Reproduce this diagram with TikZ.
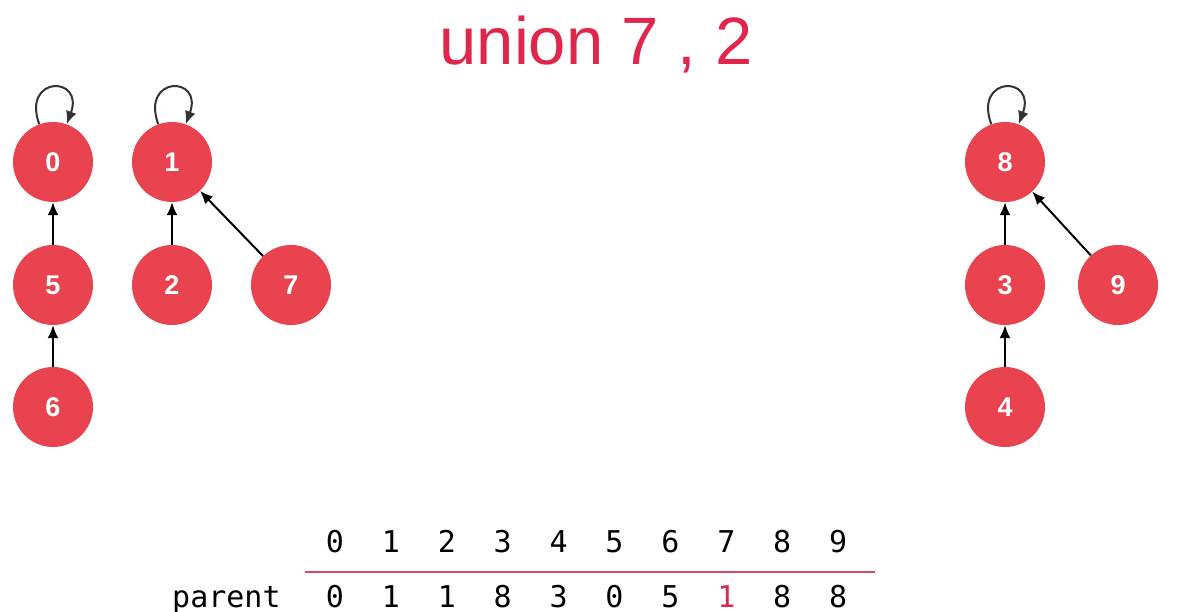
\documentclass[tikz,border=0pt]{standalone}
\usepackage{fontspec}
\setmainfont{Liberation Sans}
\setmonofont{DejaVu Sans Mono}
\usetikzlibrary{arrows.meta}
\definecolor{setred}{HTML}{E8434F}
\definecolor{titlered}{HTML}{E2254B}
\definecolor{rulered}{HTML}{DB4A5C}
\tikzset{
	elem/.style = {circle, fill=setred, minimum size=80pt, inner sep=0pt, text=white,
		font=\fontsize{27}{27}\selectfont\bfseries},
	link/.style = {-{Latex[length=13pt, width=11pt]}, line width=2pt},
	self/.style = {link, draw=black!80, out=110, in=70, distance=52pt},
	cell/.style = {anchor=base, inner sep=0pt, font=\fontsize{30}{30}\selectfont\ttfamily},
}

\begin{document}
\begin{tikzpicture}[x=1pt, y=-1pt]
	\useasboundingbox (0,0) rectangle (1181,612);
	
	\node [anchor=base, text=titlered, font=\fontsize{67}{67}\selectfont] (title) at (596,65) {union 7 , 2};
	
	% tree with root 0
	\node [elem] (n0) at (53,162) {0};
	\node [elem] (n5) at (53,285) {5};
	\node [elem] (n6) at (53,407) {6};
	\draw [link] (n5) -- (n0);
	\draw [link] (n6) -- (n5);
	\path (n0) edge [self] (n0);
	
	% tree with root 1
	\node [elem] (n1) at (172,162) {1};
	\node [elem] (n2) at (172,285) {2};
	\node [elem] (n7) at (291,285) {7};
	\draw [link] (n2) -- (n1);
	\draw [link] (n7) -- (n1);
	\path (n1) edge [self] (n1);
	
	% tree with root 8
	\node [elem] (n8) at (1005,162) {8};
	\node [elem] (n3) at (1005,285) {3};
	\node [elem] (n9) at (1118,285) {9};
	\node [elem] (n4) at (1005,407) {4};
	\draw [link] (n3) -- (n8);
	\draw [link] (n9) -- (n8);
	\draw [link] (n4) -- (n3);
	\path (n8) edge [self] (n8);
	
	% parent array
	\def\ys{552};
	\def\yp{607};
	\node [cell, anchor=base west] (parent) at (172,\yp) {parent};
	\foreach \i/\p/\c [evaluate=\i as \x using 335+55.9*\i] in
		{0/0/black, 1/1/black, 2/1/black, 3/8/black, 4/3/black,
		 5/0/black, 6/5/black, 7/1/titlered, 8/8/black, 9/8/black} {
		\node [cell] (idx\i) at (\x,\ys) {\i};
		\node [cell, text=\c] (par\i) at (\x,\yp) {\p};
	}
	\coordinate (rule-l) at (305,572);
	\coordinate (rule-r) at (875,572);
	\draw [rulered, line width=1.8pt] (rule-l) -- (rule-r);
\end{tikzpicture}
\end{document}
